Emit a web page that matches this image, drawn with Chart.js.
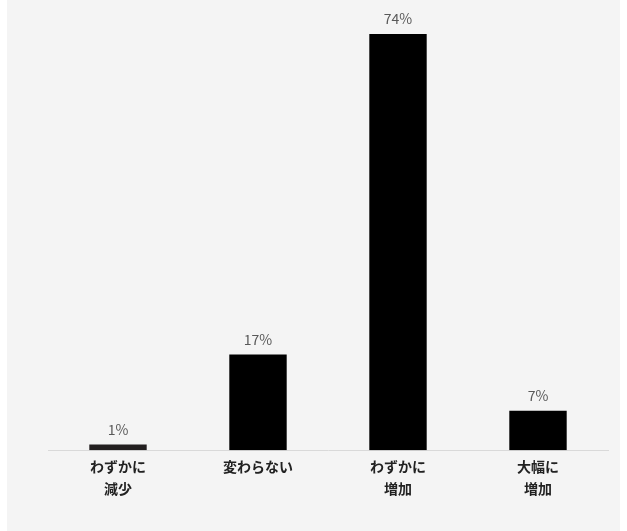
<!DOCTYPE html>
<html>
<head>
<meta charset="utf-8">
<script src="https://cdn.jsdelivr.net/npm/chart.js@4.4.1/dist/chart.umd.min.js"></script>
<style>
  html,body{margin:0;padding:0;background:#fff;}
  #bg{position:absolute;left:7px;top:0;width:613px;height:531px;background:#f4f4f4;}
  #wrap{position:absolute;left:0;top:0;width:627px;height:531px;}
</style>
</head>
<body>
<div id="bg"></div>
<div id="wrap"><canvas id="c"></canvas></div>
<script>
// 回答カテゴリ
const categories=[["わずかに","減少"],"変わらない",["わずかに","増加"],["大幅に","増加"]];
const values=[1,17,74,7];
const barColors=["#231f20","#000000","#000000","#000000"];

const FONT='"Noto Sans CJK JP","Noto Sans",sans-serif';

// 棒の上に%表示
const valueLabels={
  id:"valueLabels",
  afterDatasetsDraw(chart){
    const ctx=chart.ctx;
    const meta=chart.getDatasetMeta(0);
    ctx.save();
    ctx.font="14px "+FONT;
    ctx.fillStyle="#595959";
    ctx.textAlign="center";
    ctx.textBaseline="middle";
    meta.data.forEach((bar,i)=>{
      ctx.fillText(values[i]+"%",bar.x,bar.y-15);
    });
    ctx.restore();
  }
};

new Chart(document.getElementById("c"),{
  type:"bar",
  data:{labels:categories,datasets:[{data:values,backgroundColor:barColors,borderWidth:0,
    barPercentage:0.41,categoryPercentage:1}]},
  options:{
    responsive:true,maintainAspectRatio:false,animation:false,
    layout:{padding:{left:48,right:19,top:34,bottom:26}},
    plugins:{legend:{display:false},tooltip:{enabled:false}},
    scales:{
      x:{
        grid:{display:false,drawTicks:false},
        border:{display:true,color:"#d9d9d9",width:1},
        ticks:{padding:5,color:"#222",maxRotation:0,autoSkip:false,
          font:{family:FONT,size:14,weight:"bold",lineHeight:1.6}}
      },
      y:{display:false,min:0,max:74}
    }
  },
  plugins:[valueLabels]
});
</script>
</body>
</html>
